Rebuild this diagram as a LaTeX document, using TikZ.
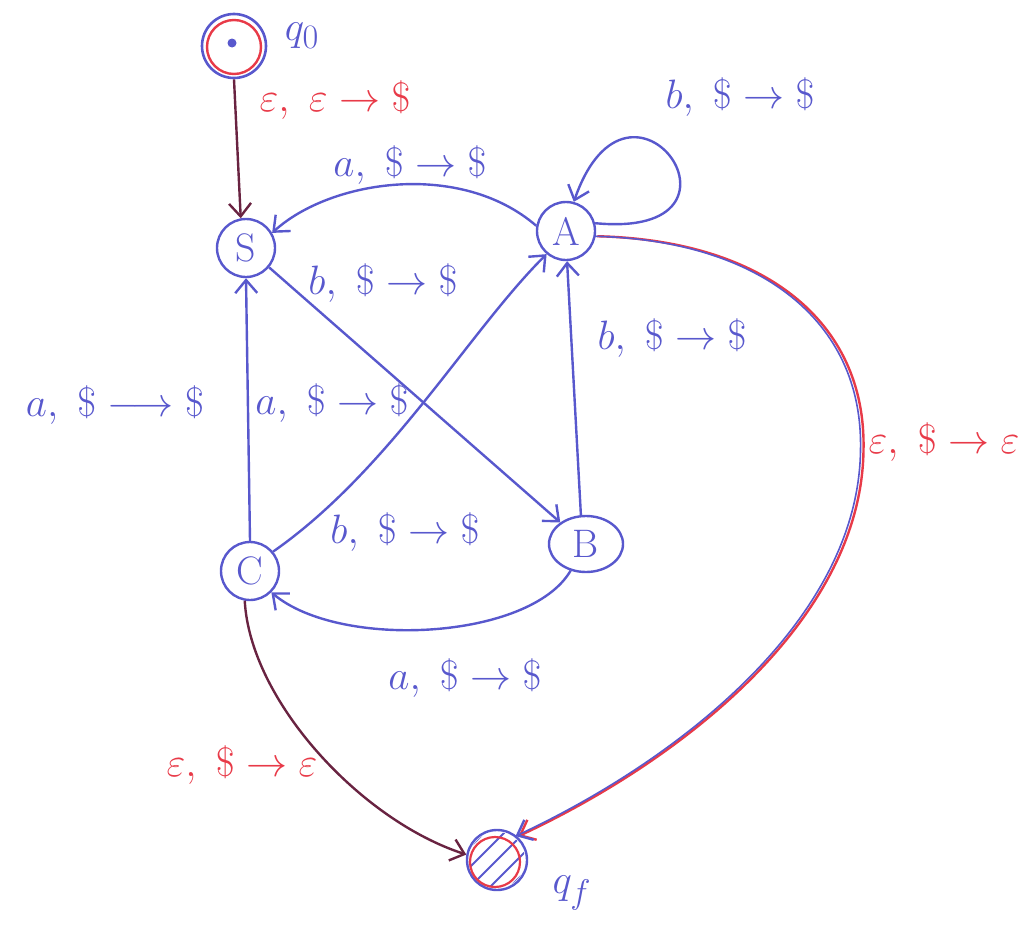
\documentclass[tikz,border=0pt]{standalone}
\usepackage{amsmath}
\usetikzlibrary{arrows.meta,shapes.geometric}
\definecolor{bpen}{RGB}{88,88,205}
\definecolor{rpen}{RGB}{232,58,72}
\definecolor{mpen}{RGB}{105,35,65}
\begin{document}
\begin{tikzpicture}[x=1pt,y=-1pt,
  state/.style={circle,draw=bpen,line width=2.4pt,inner sep=0pt,minimum size=58pt,text=bpen},
  stext/.style={font=\Huge,scale=1.6,inner sep=0pt,text=bpen},
  edge/.style={draw=bpen,line width=2.4pt,
    -{Straight Barb[length=13pt,width=22pt,line width=2.4pt]}},
  medge/.style={edge,draw=mpen},
  lab/.style={text=bpen,font=\Huge,scale=1.65,inner sep=0pt},
  rlab/.style={lab,text=rpen}]
\useasboundingbox (0,0) rectangle (1026,926);

% states
\node[circle,draw=bpen,line width=2.6pt,minimum size=64pt,inner sep=0pt] (q0) at (234,46) {};
\draw[rpen,line width=2.4pt] (234,47) circle[radius=27];
\fill[bpen] (232,43) circle[radius=4.5];
\node[lab] (q0l) at (302,36) {$q_0$};

\node[state] (S) at (246,248) {};
\node[state] (A) at (566,231) {};
\node[state,ellipse,minimum width=74pt,minimum height=56pt] (B) at (586,544) {};
\node[state] (C) at (250,571) {};
\node[stext] (St) at (S) {S};
\node[stext] (At) at (A) {A};
\node[stext] (Bt) at (B) {B};
\node[stext] (Ct) at (C) {C};

\node[circle,draw=bpen,line width=2.4pt,minimum size=60pt,inner sep=0pt] (qf) at (497,860) {};
\begin{scope}
  \clip (497,860) circle[radius=28];
  \foreach \d in {-40,-20,0,20,40}
    \draw[bpen,line width=2pt] (457+\d,900) -- ++(80,-80);
\end{scope}
\draw[rpen,line width=2.2pt] (495,862) circle[radius=25];
\node[lab] (qfl) at (572,893) {$q_f$};

% transitions
\draw[medge] (q0.south) -- (S.100);
\draw[edge] (A.170) .. controls (460,160) and (330,180) .. (S.30);
\draw[edge] (A.15) .. controls (770,240) and (630,40) .. (A.75);
\draw[edge] (S.-40) -- (B.140);
\draw[edge] (B.100) -- (A.-88);
\draw[edge] (C.north) -- (S.south);
\draw[edge] (C.40) .. controls (390,470) and (470,330) .. (A.-130);
\draw[edge] (B.-120) .. controls (530,640) and (340,650) .. (C.-45);
\draw[medge] (C.-100) .. controls (250,700) and (360,820) .. (qf.170);
\draw[edge,draw=rpen,transform canvas={xshift=1.5pt}]
  (A.-10) .. controls (760,240) and (865,320) .. (862,450)
  .. controls (860,620) and (680,760) .. (qf.50);
\draw[edge,line width=1.6pt,transform canvas={xshift=-1.5pt}]
  (A.-10) .. controls (760,240) and (865,320) .. (862,450)
  .. controls (860,620) and (680,760) .. (qf.50);

% labels
\node[rlab] (l1) at (335,100) {$\varepsilon,\ \varepsilon \rightarrow \$$};
\node[lab] (l2) at (740,97) {$b,\ \$ \rightarrow \$$};
\node[lab] (l3) at (410,165) {$a,\ \$ \rightarrow \$$};
\node[lab] (l4) at (383,283) {$b,\ \$ \rightarrow \$$};
\node[lab] (l5) at (672,338) {$b,\ \$ \rightarrow \$$};
\node[lab] (l6) at (115,405) {$a,\ \$ \longrightarrow \$$};
\node[lab] (l7) at (332,403) {$a,\ \$ \rightarrow \$$};
\node[lab] (l8) at (405,532) {$b,\ \$ \rightarrow \$$};
\node[lab] (l9) at (465,678) {$a,\ \$ \rightarrow \$$};
\node[rlab] (l10) at (242,765) {$\varepsilon,\ \$ \rightarrow \varepsilon$};
\node[rlab] (l11) at (944,442) {$\varepsilon,\ \$ \rightarrow \varepsilon$};
\end{tikzpicture}
\end{document}
